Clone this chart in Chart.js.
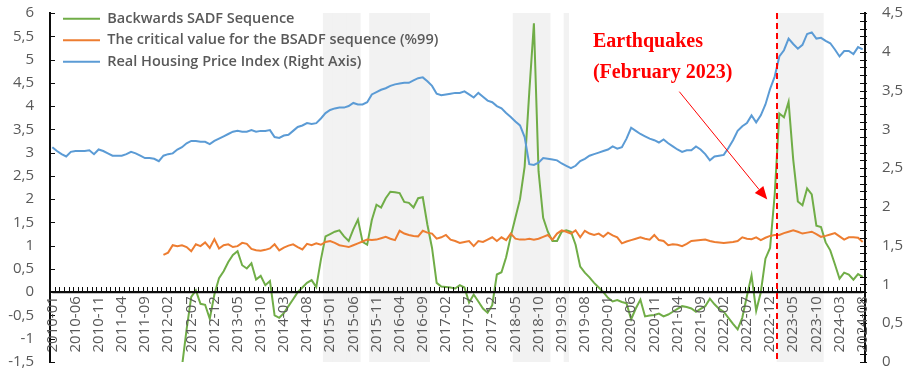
<!DOCTYPE html>
<html>
<head>
<meta charset="utf-8">
<script src="https://cdn.jsdelivr.net/npm/chart.js@4.4.1/dist/chart.umd.min.js"></script>
<style>
  html, body { margin: 0; padding: 0; background: #fff; }
  #wrap { width: 912px; height: 373px; position: relative; }
</style>
</head>
<body>
<div id="wrap"><canvas id="chart"></canvas></div>
<script>
/* ── DATA ─────────────────────────────── */
// monthly categories 2010-01 … 2024-08
const FIRST_YEAR = 2010, LAST_YEAR = 2024, LAST_MONTH = 8;
const MONTHS = [];
for (let y = FIRST_YEAR; y <= LAST_YEAR; y++) {
  for (let m = 1; m <= 12; m++) {
    if (y === LAST_YEAR && m > LAST_MONTH) break;
    MONTHS.push(y + '-' + String(m).padStart(2, '0'));
  }
}

const LEFT_TICKS  = { min: -1.5, max: 6,   step: 0.5 };
const RIGHT_TICKS = { min: 0,    max: 4.5, step: 0.1, labelEvery: 0.5 };

// Backwards SADF sequence, starts 2012-05
const BSADF_START = '2012-05';
const BSADF = [
  -1.6, -0.8, -0.1, 0.04, -0.25, -0.27, -0.57, -0.05, 0.3, 0.45,
  0.65, 0.8, 0.88, 0.58, 0.51, 0.62, 0.27, 0.35, 0.15, 0.24,
  -0.5, -0.55, -0.45, -0.3, -0.15, 0.0, 0.1, 0.2, 0.26, 0.11,
  0.7, 1.2, 1.25, 1.3, 1.33, 1.2, 1.1, 1.35, 1.56, 1.08,
  1.02, 1.55, 1.88, 1.82, 2.02, 2.16, 2.15, 2.13, 1.94, 1.92,
  1.82, 2.02, 2.04, 1.45, 0.95, 0.2, 0.12, 0.11, 0.1, 0.08,
  0.15, 0.1, -0.22, -0.05, -0.2, -0.35, -0.44, -0.28, 0.38, 0.43,
  0.75, 1.2, 1.6, 2.0, 2.7, 4.3, 5.78, 2.6, 1.6, 1.3,
  1.1, 1.1, 1.3, 1.33, 1.3, 1.02, 0.55, 0.42, 0.32, 0.2,
  0.1, 0.0, -0.12, -0.2, -0.17, -0.21, -0.24, -0.58, -0.35, -0.16,
  -0.52, -0.5, -0.49, -0.46, -0.52, -0.48, -0.42, -0.36, -0.3, -0.32,
  -0.35, -0.42, -0.36, -0.3, -0.14, -0.26, -0.36, -0.42, -0.55, -0.68,
  -0.8, -0.55, -0.08, 0.36, -0.4, 0.0, 0.72, 0.95, 2.1, 3.84,
  3.76, 4.09, 2.85, 1.95, 1.87, 2.23, 2.1, 1.43, 1.4, 1.07,
  0.9, 0.6, 0.29, 0.42, 0.38, 0.27, 0.39, 0.33
];

// critical value (%99), starts 2012-01
const CRIT_START = '2012-01';
const CRIT = [
  0.80, 0.85, 1.01, 0.99, 1.01, 0.97, 0.88, 1.03, 0.99, 1.07,
  0.95, 1.14, 0.94, 1.01, 1.03, 0.97, 0.99, 1.06, 1.04, 0.93,
  0.90, 0.89, 0.91, 0.94, 1.03, 0.90, 0.96, 1.00, 1.03, 0.97,
  0.92, 1.04, 1.01, 1.05, 1.02, 1.08, 1.10, 1.06, 1.01, 0.99,
  0.97, 1.01, 1.05, 1.09, 1.13, 1.12, 1.13, 1.16, 1.19, 1.15,
  1.12, 1.32, 1.26, 1.23, 1.21, 1.20, 1.32, 1.28, 1.26, 1.15,
  1.18, 1.23, 1.13, 1.10, 1.06, 1.08, 1.10, 0.99, 1.10, 1.08,
  1.13, 1.18, 1.10, 1.18, 1.12, 1.26, 1.15, 1.13, 1.13, 1.15,
  1.13, 1.15, 1.19, 1.23, 1.13, 1.26, 1.33, 1.30, 1.26, 1.33,
  1.18, 1.32, 1.26, 1.23, 1.26, 1.19, 1.28, 1.22, 1.18, 1.05,
  1.09, 1.12, 1.15, 1.18, 1.15, 1.13, 1.23, 1.12, 1.10, 1.01,
  1.03, 1.02, 0.99, 1.04, 1.10, 1.11, 1.12, 1.13, 1.10, 1.08,
  1.07, 1.06, 1.07, 1.08, 1.10, 1.18, 1.15, 1.14, 1.18, 1.12,
  1.17, 1.21, 1.23, 1.23, 1.27, 1.30, 1.33, 1.30, 1.26, 1.28,
  1.30, 1.25, 1.19, 1.21, 1.24, 1.27, 1.20, 1.13, 1.18, 1.18,
  1.17, 1.08
];

// real housing price index (right axis), 2010-01 …
const RHPI = [
  2.77, 2.72, 2.68, 2.65, 2.71, 2.72, 2.72, 2.72, 2.73, 2.68,
  2.74, 2.72, 2.69, 2.66, 2.66, 2.66, 2.68, 2.71, 2.69, 2.66,
  2.63, 2.63, 2.62, 2.59, 2.66, 2.68, 2.69, 2.74, 2.77, 2.82,
  2.85, 2.85, 2.84, 2.84, 2.81, 2.85, 2.88, 2.91, 2.94, 2.97,
  2.98, 2.97, 2.97, 2.99, 2.97, 2.98, 2.98, 2.99, 2.90, 2.89,
  2.92, 2.93, 2.98, 3.03, 3.05, 3.08, 3.07, 3.08, 3.14, 3.21,
  3.25, 3.27, 3.28, 3.28, 3.30, 3.34, 3.32, 3.32, 3.35, 3.45,
  3.48, 3.51, 3.53, 3.56, 3.58, 3.59, 3.60, 3.60, 3.63, 3.66,
  3.67, 3.62, 3.56, 3.46, 3.44, 3.45, 3.46, 3.47, 3.47, 3.49,
  3.45, 3.41, 3.47, 3.42, 3.37, 3.35, 3.30, 3.27, 3.21, 3.16,
  3.10, 3.05, 2.90, 2.55, 2.54, 2.57, 2.63, 2.62, 2.61, 2.60,
  2.56, 2.53, 2.50, 2.53, 2.59, 2.62, 2.66, 2.68, 2.70, 2.72,
  2.74, 2.78, 2.75, 2.77, 2.88, 3.02, 2.98, 2.94, 2.91, 2.88,
  2.86, 2.83, 2.87, 2.82, 2.78, 2.74, 2.71, 2.73, 2.73, 2.78,
  2.74, 2.68, 2.60, 2.65, 2.66, 2.67, 2.76, 2.86, 2.98, 3.04,
  3.08, 3.18, 3.09, 3.18, 3.32, 3.52, 3.68, 3.94, 4.02, 4.17,
  4.10, 4.04, 4.09, 4.23, 4.25, 4.17, 4.18, 4.14, 4.11, 4.03,
  3.94, 4.01, 4.01, 3.97, 4.06, 4.03
];

// shaded bubble periods [first month, last month]
const BUBBLES = [
  ['2014-12', '2015-07'],
  ['2015-10', '2016-10'],
  ['2018-05', '2018-12'],
  ['2019-04', '2019-04'],
  ['2023-02', '2023-11'],
];

const LABELS = [
  'Backwards SADF Sequence',
  'The critical value for the BSADF sequence (%99)',
  'Real Housing Price Index (Right Axis)',
];
const COLORS = ['#70AD47', '#ED7D31', '#5B9BD5'];
const AXIS_COLOR = '#0D0D0D';

// earthquake note (month index / left-axis value positions)
const EVENT_MONTH = '2023-02';
const NOTE_LINES = ['Earthquakes', '(February 2023)'];
const NOTE_AT = [116.75, 5.26];
const NOTE_STEP = 0.66;
const ARROW_FROM = [135.4, 4.31];
const ARROW_TO = [154.4, 1.99];

/* ── HELPERS ──────────────────────────── */
function fromMonth(start, values) {
  const s = MONTHS.indexOf(start);
  return MONTHS.map((m, i) => (i >= s && i - s < values.length) ? values[i - s] : null);
}

const bandData = MONTHS.map(m => {
  const hit = BUBBLES.some(([a, b]) => m >= a && m <= b);
  return hit ? [LEFT_TICKS.min, LEFT_TICKS.max] : null;
});

// horizontal category axis sits at 0 on the left scale
const AXIS_AT = 0;
const axisLine = MONTHS.map(() => AXIS_AT);

const fmt = v => String(Math.round(v * 100) / 100).replace('.', ',');
const GRAY = '#595959';
const TICK_FONT = { family: 'Open Sans', size: 15 };
const TICK_LEN = 5;

function seg(ctx, x0, y0, x1, y1) {
  ctx.beginPath();
  ctx.moveTo(x0, y0);
  ctx.lineTo(x1, y1);
  ctx.stroke();
}

/* ── PLUGIN: legend layer, axes, note ─── */
const notePlugin = {
  id: 'quakeNote',
  beforeLayout(chart) {
    const lg = chart.legend;
    if (lg && !lg._lifted) {
      lg._layers = () => [{ z: 2, draw: (area) => lg.draw(area) }];
      lg._lifted = true;
    }
  },
  afterLayout(chart) {
    const lg = chart.legend;
    if (!lg) return;
    lg.left = 56; lg.top = 4.5;
    lg.width = 520; lg.height = 80;
    lg.right = lg.left + lg.width; lg.bottom = lg.top + lg.height;
  },
  afterDatasetsDraw(chart) {
    const { ctx, chartArea } = chart;
    const xs = chart.scales.x, ys = chart.scales.y, ys1 = chart.scales.y1;

    ctx.save();
    ctx.globalAlpha = 1;
    ctx.globalCompositeOperation = 'source-over';
    ctx.setLineDash([]);

    // axis lines + inward tick marks, positioned by the scales
    const L = Math.round(chartArea.left), R = Math.round(chartArea.right);
    const T = Math.round(chartArea.top), B = Math.round(chartArea.bottom);
    const Z = Math.round(ys.getPixelForValue(AXIS_AT));
    ctx.strokeStyle = AXIS_COLOR;
    ctx.lineWidth = 1;
    ys.ticks.forEach((t, i) => {
      const p = Math.round(ys.getPixelForTick(i)) + 0.5;
      seg(ctx, L, p, L + TICK_LEN, p);
    });
    ys1.ticks.forEach((t, i) => {
      const p = Math.round(ys1.getPixelForTick(i)) + 0.5;
      seg(ctx, R - TICK_LEN, p, R + 2, p);
    });
    for (let i = 0; i <= MONTHS.length; i++) {
      const p = Math.round(xs.getPixelForValue(i - 0.5)) + 0.5;
      seg(ctx, p, Z - TICK_LEN, p, Z);
    }
    ctx.lineWidth = 2;
    seg(ctx, L, T, L, B);
    seg(ctx, R, T, R, B);
    seg(ctx, L - 1, Z, R + 1, Z);

    // dashed event line
    const ei = MONTHS.indexOf(EVENT_MONTH);
    const ex = Math.round(xs.getPixelForValue(ei - 0.6));
    ctx.strokeStyle = '#FF0000';
    ctx.lineWidth = 2;
    ctx.setLineDash([6, 4]);
    seg(ctx, ex, chartArea.top, ex, chartArea.bottom);
    ctx.setLineDash([]);

    // arrow
    const x0 = xs.getPixelForValue(ARROW_FROM[0]), y0 = ys.getPixelForValue(ARROW_FROM[1]);
    const x1 = xs.getPixelForValue(ARROW_TO[0]),   y1 = ys.getPixelForValue(ARROW_TO[1]);
    const a = Math.atan2(y1 - y0, x1 - x0);
    const head = 13, hw = 5.5;
    const bx = x1 - Math.cos(a) * head, by = y1 - Math.sin(a) * head;
    ctx.lineWidth = 1;
    seg(ctx, x0, y0, bx, by);
    ctx.fillStyle = '#FF0000';
    ctx.beginPath();
    ctx.moveTo(x1, y1);
    ctx.lineTo(bx + Math.sin(a) * hw, by - Math.cos(a) * hw);
    ctx.lineTo(bx - Math.sin(a) * hw, by + Math.cos(a) * hw);
    ctx.closePath();
    ctx.fill();

    // text
    ctx.font = 'bold 20px "Liberation Serif", "Times New Roman", serif';
    ctx.textAlign = 'left';
    ctx.textBaseline = 'alphabetic';
    NOTE_LINES.forEach((t, k) => {
      ctx.fillText(t, xs.getPixelForValue(NOTE_AT[0]), ys.getPixelForValue(NOTE_AT[1] - k * NOTE_STEP));
    });
    ctx.restore();
  }
};

/* ── CHART ────────────────────────────── */
const lineSet = (i, data, axis, order) => ({
  type: 'line',
  label: LABELS[i],
  data,
  borderColor: COLORS[i],
  backgroundColor: COLORS[i],
  borderWidth: 2,
  pointRadius: 0,
  tension: 0,
  yAxisID: axis,
  order,
});

// fixed axis widths; top/bottom room for the plot area
const fixBox = w => s => { s.width = w; s.paddingTop = 13; s.paddingBottom = 11; };
const NO_GRID = { display: false, drawTicks: false };
const AXIS_BORDER = { display: true, color: AXIS_COLOR, width: 2 };

new Chart(document.getElementById('chart'), {
  type: 'line',
  data: {
    labels: MONTHS,
    datasets: [
      lineSet(0, fromMonth(BSADF_START, BSADF), 'y', 3),
      lineSet(1, fromMonth(CRIT_START, CRIT), 'y', 2),
      lineSet(2, RHPI, 'y1', 1),
      {
        type: 'bar',
        label: 'bubble',
        data: bandData,
        backgroundColor: '#F2F2F2',
        borderWidth: 0,
        barPercentage: 1,
        categoryPercentage: 1,
        yAxisID: 'y',
        order: 10,
      },
      {
        type: 'line',
        label: 'axis',
        data: axisLine,
        borderColor: AXIS_COLOR,
        borderWidth: 2,
        pointRadius: 0,
        yAxisID: 'y',
        order: 0,
      },
    ]
  },
  options: {
    responsive: true,
    maintainAspectRatio: false,
    animation: false,
    plugins: {
      tooltip: { enabled: false },
      legend: {
        position: 'chartArea',
        align: 'start',
        labels: {
          filter: item => item.datasetIndex < 3,
          sort: (a, b) => a.datasetIndex - b.datasetIndex,
          usePointStyle: true,
          pointStyle: 'line',
          pointStyleWidth: 37,
          padding: 7,
          color: GRAY,
          font: { family: 'Open Sans', size: 14.5, weight: '600' },
        }
      }
    },
    scales: {
      x: {
        type: 'category',
        position: { y: AXIS_AT },
        offset: true,
        grid: NO_GRID,
        border: AXIS_BORDER,
        ticks: {
          autoSkip: false,
          minRotation: 90,
          maxRotation: 90,
          padding: 4,
          z: 1,
          color: GRAY,
          font: TICK_FONT,
          callback: (v, i) => (i % 5 === 0 ? MONTHS[i] : ''),
        }
      },
      y: {
        position: 'left',
        min: LEFT_TICKS.min,
        max: LEFT_TICKS.max,
        afterFit: fixBox(50),
        grid: NO_GRID,
        border: AXIS_BORDER,
        ticks: {
          stepSize: LEFT_TICKS.step,
          autoSkip: false,
          padding: 16,
          color: GRAY,
          font: TICK_FONT,
          callback: v => fmt(v),
        }
      },
      y1: {
        position: 'right',
        min: RIGHT_TICKS.min,
        max: RIGHT_TICKS.max,
        afterFit: fixBox(47),
        grid: NO_GRID,
        border: AXIS_BORDER,
        ticks: {
          stepSize: RIGHT_TICKS.step,
          autoSkip: false,
          padding: 17,
          color: GRAY,
          font: TICK_FONT,
          callback: v => {
            const r = v / RIGHT_TICKS.labelEvery;
            return Math.abs(r - Math.round(r)) < 1e-6 ? fmt(v) : '';
          },
        }
      }
    }
  },
  plugins: [notePlugin]
});
</script>
</body>
</html>
